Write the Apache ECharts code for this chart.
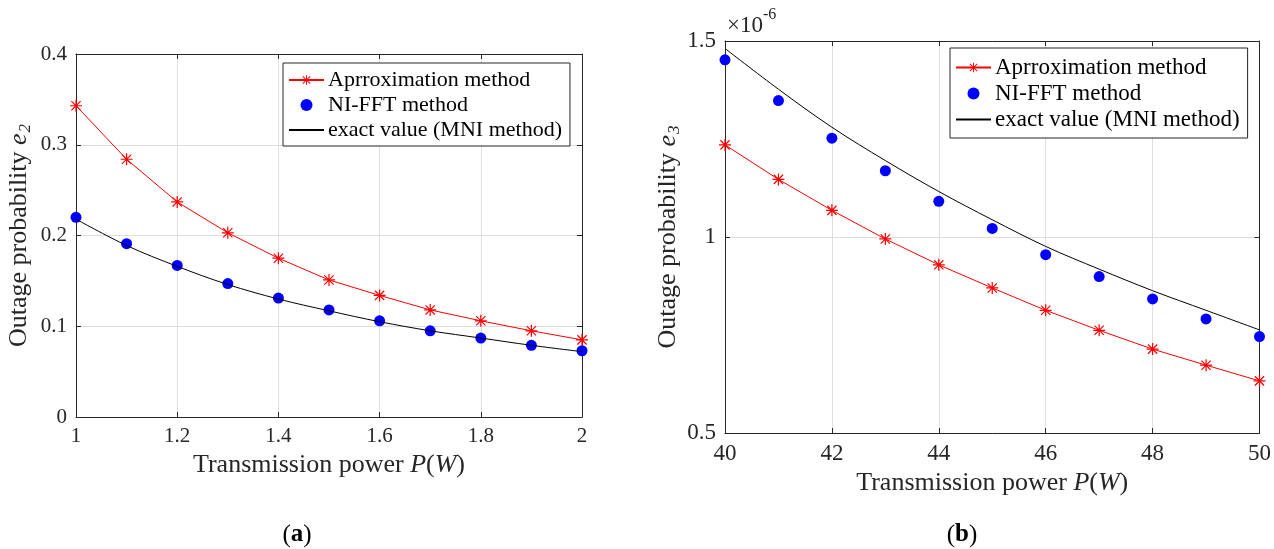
<!DOCTYPE html>
<html>
<head>
<meta charset="utf-8">
<script src="https://cdn.jsdelivr.net/npm/echarts@6/dist/echarts.min.js"></script>
<style>
html,body{margin:0;padding:0;background:#fff;}
#c{width:1274px;height:549px;}
</style>
</head>
<body>
<div id="c"></div>
<script>
// ---- data (a) ----
var powerA = [1, 1.1, 1.2, 1.3, 1.4, 1.5, 1.6, 1.7, 1.8, 1.9, 2];
var approxA = [0.343, 0.284, 0.237, 0.203, 0.175, 0.151, 0.134, 0.118, 0.106, 0.095, 0.085];
var nifftA = [0.220, 0.191, 0.167, 0.147, 0.131, 0.118, 0.106, 0.095, 0.087, 0.079, 0.073];
var exactA = [0.218, 0.189, 0.166, 0.146, 0.130, 0.117, 0.105, 0.095, 0.087, 0.079, 0.072];
// ---- data (b), values in units of 1e-6 ----
var powerB = [40, 41, 42, 43, 44, 45, 46, 47, 48, 49, 50];
var approxB = [1.235, 1.147, 1.068, 0.995, 0.929, 0.870, 0.813, 0.762, 0.714, 0.673, 0.633];
var nifftB = [1.452, 1.348, 1.252, 1.169, 1.091, 1.022, 0.955, 0.899, 0.842, 0.791, 0.746];
var exactB = [1.481, 1.377, 1.280, 1.195, 1.116, 1.044, 0.976, 0.918, 0.863, 0.813, 0.763];
var seriesNames = ['Aprroximation method', 'NI-FFT method', 'exact value (MNI method)'];
var captions = ['a', 'b'];

function pairs(xs, ys) { return xs.map(function (x, i) { return [x, ys[i]]; }); }

var FONT = 'Liberation Serif';
var INK = '#262626';
var STAR = 'path://M9,0H11V20H9Z M0,9H20V11H0Z M1.6,3L3,1.6L18.4,17L17,18.4Z M17,1.6L18.4,3L3,18.4L1.6,17Z';

var chart = echarts.init(document.getElementById('c'), null, {renderer: 'canvas'});

function nameRich(fs) {
  return {
    n: {fontSize: fs, fontFamily: FONT, color: INK},
    i: {fontSize: fs, fontFamily: FONT, fontStyle: 'italic', color: INK},
    s: {fontSize: Math.round(fs * 0.65), fontFamily: FONT, fontStyle: 'italic', color: INK, padding: [13, 0, 0, 1]}
  };
}

function mainX(idx, min, max, interval, fs, gap) {
  return {
    type: 'value', gridIndex: idx, min: min, max: max, interval: interval, position: 'bottom',
    name: '{n|Transmission power }{i|P}{n|(}{i|W}{n|)}', nameLocation: 'middle', nameGap: gap,
    nameTextStyle: {rich: nameRich(26)},
    axisLine: {show: true, onZero: false, lineStyle: {color: INK, width: 1}},
    axisTick: {show: true, inside: true, length: 5, lineStyle: {color: INK}},
    axisLabel: {fontSize: fs, fontFamily: FONT, color: INK, margin: 9},
    splitLine: {show: true, lineStyle: {color: '#dedede', width: 1}}
  };
}
function frameX(idx, min, max, interval) {
  return {
    type: 'value', gridIndex: idx, min: min, max: max, interval: interval, position: 'top',
    axisLine: {show: true, onZero: false, lineStyle: {color: INK, width: 1}},
    axisTick: {show: true, inside: true, length: 5, lineStyle: {color: INK}},
    axisLabel: {show: false}, splitLine: {show: false}
  };
}
function mainY(idx, min, max, interval, fs, nameStr, gap) {
  return {
    type: 'value', gridIndex: idx, min: min, max: max, interval: interval, position: 'left',
    name: nameStr, nameLocation: 'middle', nameGap: gap,
    nameTextStyle: {rich: nameRich(26)},
    axisLine: {show: true, onZero: false, lineStyle: {color: INK, width: 1}},
    axisTick: {show: true, inside: true, length: 5, lineStyle: {color: INK}},
    axisLabel: {fontSize: fs, fontFamily: FONT, color: INK, margin: 9},
    splitLine: {show: true, lineStyle: {color: '#dedede', width: 1}}
  };
}
function frameY(idx, min, max, interval) {
  return {
    type: 'value', gridIndex: idx, min: min, max: max, interval: interval, position: 'right',
    axisLine: {show: true, onZero: false, lineStyle: {color: INK, width: 1}},
    axisTick: {show: true, inside: true, length: 5, lineStyle: {color: INK}},
    axisLabel: {show: false}, splitLine: {show: false}
  };
}

function seriesSet(xi, yi, xs, ap, ni, ex) {
  return [
    {name: seriesNames[0], type: 'line', xAxisIndex: xi, yAxisIndex: yi, data: pairs(xs, ap),
     symbol: STAR, symbolSize: 12, showAllSymbol: true,
     lineStyle: {color: '#ff0000', width: 1}, itemStyle: {color: '#ff0000'}, z: 3},
    {name: seriesNames[1], type: 'scatter', xAxisIndex: xi, yAxisIndex: yi, data: pairs(xs, ni),
     symbol: 'circle', symbolSize: 11, itemStyle: {color: '#0000ff', opacity: 1}, z: 2},
    {name: seriesNames[2], type: 'line', xAxisIndex: xi, yAxisIndex: yi, data: pairs(xs, ex),
     symbol: 'none', smooth: 0.35, lineStyle: {color: '#000000', width: 1}, itemStyle: {color: '#000000'}, z: 4}
  ];
}

function legendAt(left, top, fs, pad) {
  return {
    data: [
      {name: seriesNames[0]},
      {name: seriesNames[1]},
      {name: seriesNames[2], itemStyle: {opacity: 0}}
    ],
    orient: 'vertical', left: left, top: top,
    itemWidth: 35, itemHeight: 12, itemGap: 3, padding: pad,
    borderColor: INK, borderWidth: 1, backgroundColor: '#ffffff',
    selectedMode: false,
    textStyle: {fontSize: fs, fontFamily: FONT, color: '#000', padding: [0, 0, 0, -1]}
  };
}

var option = {
  animation: false,
  backgroundColor: '#ffffff',
  textStyle: {fontFamily: FONT},
  grid: [
    {left: 76, top: 54, width: 506, height: 363, containLabel: false},
    {left: 725, top: 41, width: 538, height: 392, containLabel: false}
  ],
  xAxis: [
    mainX(0, 1, 2, 0.2, 21, 33),
    frameX(0, 1, 2, 0.2),
    mainX(1, 40, 50, 2, 23, 36),
    frameX(1, 40, 50, 2)
  ],
  yAxis: [
    mainY(0, 0, 0.4, 0.1, 21, '{n|Outage probability }{i|e}{s|2}', 42),
    frameY(0, 0, 0.4, 0.1),
    mainY(1, 0.5, 1.5, 0.5, 23, '{n|Outage probability }{i|e}{s|3}', 40),
    frameY(1, 0.5, 1.5, 0.5)
  ],
  legend: [
    legendAt(283, 63, 22, [6, 8, 5, 5]),
    legendAt(950, 48, 23, [8, 8, 7, 5])
  ],
  series: [].concat(seriesSet(0, 0, powerA, approxA, nifftA, exactA),
                    seriesSet(2, 2, powerB, approxB, nifftB, exactB)),
  graphic: [
    {type: 'text', left: 727, top: 7, z: 10,
     style: {text: '{m|×10}{e|-6}', rich: {
       m: {fontSize: 23, fontFamily: FONT, fill: INK, padding: [10, 0, 0, 0]},
       e: {fontSize: 16, fontFamily: FONT, fill: INK, padding: [0, 0, 12, 0]}
     }}},
    {type: 'text', x: 297, y: 535, z: 10,
     style: {text: '{p|(}{b|' + captions[0] + '}{p|)}', align: 'center', verticalAlign: 'middle', rich: {
       p: {fontSize: 25, fontFamily: FONT, fill: '#000'},
       b: {fontSize: 25, fontFamily: FONT, fontWeight: 'bold', fill: '#000'}
     }}},
    {type: 'text', x: 962, y: 535, z: 10,
     style: {text: '{p|(}{b|' + captions[1] + '}{p|)}', align: 'center', verticalAlign: 'middle', rich: {
       p: {fontSize: 25, fontFamily: FONT, fill: '#000'},
       b: {fontSize: 25, fontFamily: FONT, fontWeight: 'bold', fill: '#000'}
     }}}
  ]
};
chart.setOption(option);
</script>
</body>
</html>
